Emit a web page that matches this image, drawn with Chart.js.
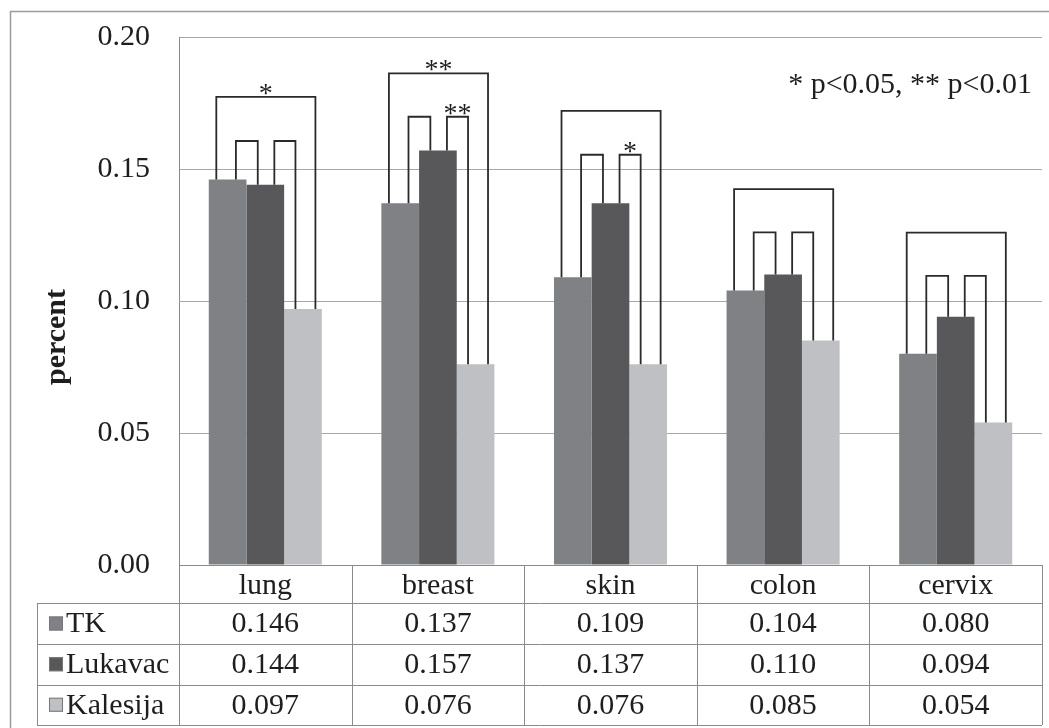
<!DOCTYPE html>
<html lang="en">
<head>
    <meta charset="UTF-8">
    <title>percent by site</title>
    <script src="https://cdn.jsdelivr.net/npm/chart.js@4"></script>
    <style>
        body {
            margin: 0;
            background-color: #ffffff;
        }
        #grafica {
            display: block;
        }
    </style>
</head>
<body>
    <canvas id="grafica" width="1049" height="728"></canvas>

    <script>
        // datos
        const categorias = ['lung', 'breast', 'skin', 'colon', 'cervix'];
        const serieTK = [0.146, 0.137, 0.109, 0.104, 0.080];
        const serieLukavac = [0.144, 0.157, 0.137, 0.110, 0.094];
        const serieKalesija = [0.097, 0.076, 0.076, 0.085, 0.054];
        const nombresSeries = ['TK', 'Lukavac', 'Kalesija'];
        const coloresSeries = ['#808185', '#58585b', '#bfc0c3'];

        // altura (en unidades del eje) de los corchetes de significancia
        const corcheteExterior = [0.1773, 0.1862, 0.172, 0.1424, 0.1259];
        const corcheteInterior = [0.1606, 0.1698, 0.1554, 0.126, 0.1095];
        const estrellasExterior = ['*', '**', '', '', ''];
        const estrellasIzq = ['', '', '', '', ''];
        const estrellasDer = ['', '**', '*', '', ''];

        const ejeMin = 0;
        const ejeMax = 0.20;
        const ejePaso = 0.05;
        const tituloEje = 'percent';
        const notaSignificancia = '* p<0.05, ** p<0.01';

        const fuente = "'Liberation Serif', 'Times New Roman', serif";
        const colorTexto = '#1e1e1e';
        const colorTabla = '#8a8a8a';

        function dibujarCorchete(ctx, x1, y1, x2, y2, yArriba) {
            ctx.beginPath();
            ctx.moveTo(x1, y1);
            ctx.lineTo(x1, yArriba);
            ctx.lineTo(x2, yArriba);
            ctx.lineTo(x2, y2);
            ctx.stroke();
        }

        function dibujarEstrellas(ctx, texto, x, y) {
            if (!texto) return;
            ctx.save();
            ctx.font = '28px ' + fuente;
            ctx.fillStyle = colorTexto;
            ctx.textAlign = 'center';
            ctx.textBaseline = 'alphabetic';
            ctx.fillText(texto, x, y + 5);
            ctx.restore();
        }

        const pluginCorchetes = {
            id: 'corchetes',
            afterDatasetsDraw(chart) {
                const ctx = chart.ctx;
                const escalaY = chart.scales.y;
                const barrasTK = chart.getDatasetMeta(0).data;
                const barrasLuk = chart.getDatasetMeta(1).data;
                const barrasKal = chart.getDatasetMeta(2).data;
                ctx.save();
                ctx.strokeStyle = '#2a2a2a';
                ctx.lineWidth = 1.8;
                categorias.forEach(function (c, i) {
                    const a = barrasTK[i], b = barrasLuk[i], k = barrasKal[i];
                    const w = a.width;
                    const yExt = escalaY.getPixelForValue(corcheteExterior[i]);
                    const yInt = escalaY.getPixelForValue(corcheteInterior[i]);

                    const xa1 = a.x - w / 2 + 0.2 * w;
                    const xk2 = k.x - w / 2 + 0.83 * w;
                    dibujarCorchete(ctx, xa1, a.y, xk2, k.y, yExt);

                    const xa2 = a.x - w / 2 + 0.72 * w;
                    const xb1 = b.x - w / 2 + 0.3 * w;
                    dibujarCorchete(ctx, xa2, a.y, xb1, b.y, yInt);

                    const xb2 = b.x - w / 2 + 0.74 * w;
                    const xk1 = k.x - w / 2 + 0.3 * w;
                    dibujarCorchete(ctx, xb2, b.y, xk1, k.y, yInt);

                    dibujarEstrellas(ctx, estrellasExterior[i], (xa1 + xk2) / 2, yExt);
                    dibujarEstrellas(ctx, estrellasIzq[i], (xa2 + xb1) / 2, yInt);
                    dibujarEstrellas(ctx, estrellasDer[i], (xb2 + xk1) / 2, yInt);
                });
                ctx.restore();
            }
        };

        const pluginTabla = {
            id: 'tablaDatos',
            afterDraw(chart) {
                const ctx = chart.ctx;
                const area = chart.chartArea;
                const escalaX = chart.scales.x;
                const series = [serieTK, serieLukavac, serieKalesija];

                const xTabla = 37;
                const yCabecera = area.bottom;
                const filas = [603, 644, 684.5, 725];
                const anchoCat = (area.right - area.left) / categorias.length;

                ctx.save();
                // marco exterior
                ctx.strokeStyle = '#9a9a9a';
                ctx.lineWidth = 1.5;
                ctx.strokeRect(10.5, 11.5, 1060, 760);

                // rejilla de la tabla
                ctx.strokeStyle = colorTabla;
                ctx.lineWidth = 1;
                ctx.beginPath();
                ctx.moveTo(area.left, Math.round(yCabecera) + 0.5);
                ctx.lineTo(area.right, Math.round(yCabecera) + 0.5);
                filas.forEach(function (y) {
                    ctx.moveTo(xTabla, Math.round(y) + 0.5);
                    ctx.lineTo(area.right, Math.round(y) + 0.5);
                });
                ctx.moveTo(xTabla + 0.5, filas[0]);
                ctx.lineTo(xTabla + 0.5, filas[filas.length - 1]);
                for (let i = 0; i <= categorias.length; i++) {
                    const x = Math.round(area.left + i * anchoCat) + 0.5;
                    ctx.moveTo(x, yCabecera);
                    ctx.lineTo(x, filas[filas.length - 1]);
                }
                ctx.stroke();

                // filas de valores
                ctx.font = '30px ' + fuente;
                ctx.fillStyle = colorTexto;
                ctx.textBaseline = 'middle';
                series.forEach(function (serie, s) {
                    const yc = (filas[s] + filas[s + 1]) / 2 + 1;
                    ctx.fillStyle = coloresSeries[s];
                    ctx.fillRect(49, yc - 8, 14, 14);
                    ctx.strokeStyle = '#777777';
                    ctx.strokeRect(49.5, yc - 7.5, 13, 13);
                    ctx.fillStyle = colorTexto;
                    ctx.textAlign = 'left';
                    ctx.fillText(nombresSeries[s], 66, yc);
                    ctx.textAlign = 'center';
                    serie.forEach(function (v, i) {
                        ctx.fillText(v.toFixed(3), escalaX.getPixelForValue(i), yc);
                    });
                });

                // titulo del eje y
                ctx.save();
                ctx.translate(57, 337);
                ctx.rotate(-Math.PI / 2);
                ctx.font = 'bold 30px ' + fuente;
                ctx.textAlign = 'center';
                ctx.textBaseline = 'middle';
                ctx.fillText(tituloEje, 0, 0);
                ctx.restore();

                // nota de significancia
                ctx.font = '30px ' + fuente;
                ctx.textAlign = 'right';
                ctx.textBaseline = 'alphabetic';
                ctx.fillText(notaSignificancia, 1032, 93);
                ctx.restore();
            }
        };

        function crearGrafica() {
            const ctx = document.getElementById('grafica').getContext('2d');
            Chart.defaults.font.family = fuente;
            Chart.defaults.color = colorTexto;

            new Chart(ctx, {
                type: 'bar',
                data: {
                    labels: categorias,
                    datasets: [
                        { label: nombresSeries[0], data: serieTK, backgroundColor: coloresSeries[0] },
                        { label: nombresSeries[1], data: serieLukavac, backgroundColor: coloresSeries[1] },
                        { label: nombresSeries[2], data: serieKalesija, backgroundColor: coloresSeries[2] }
                    ]
                },
                options: {
                    responsive: false,
                    animation: false,
                    devicePixelRatio: 1,
                    layout: { padding: { left: 0, top: 37, right: 7, bottom: 0 } },
                    datasets: {
                        bar: { categoryPercentage: 0.655, barPercentage: 1.0 }
                    },
                    plugins: {
                        legend: { display: false },
                        tooltip: { enabled: false }
                    },
                    scales: {
                        x: {
                            grid: { display: false, drawTicks: false },
                            border: { display: false },
                            ticks: {
                                font: { size: 30 },
                                color: colorTexto,
                                padding: 3,
                                maxRotation: 0
                            },
                            afterFit: function (scale) {
                                scale.height = 163;
                                scale.paddingLeft = 0;
                                scale.paddingRight = 0;
                            }
                        },
                        y: {
                            min: ejeMin,
                            max: ejeMax,
                            grid: { color: '#a8a8a8', lineWidth: 1, drawTicks: false },
                            border: { display: true, color: '#8a8a8a', width: 1 },
                            ticks: {
                                stepSize: ejePaso,
                                padding: 29,
                                font: { size: 30 },
                                color: colorTexto,
                                callback: function (v) { return v.toFixed(2); }
                            },
                            afterFit: function (scale) {
                                scale.width = 179;
                                scale.paddingTop = 0;
                                scale.paddingBottom = 0;
                            }
                        }
                    }
                },
                plugins: [pluginCorchetes, pluginTabla]
            });
        }

        document.addEventListener('DOMContentLoaded', crearGrafica);
    </script>
</body>
</html>
